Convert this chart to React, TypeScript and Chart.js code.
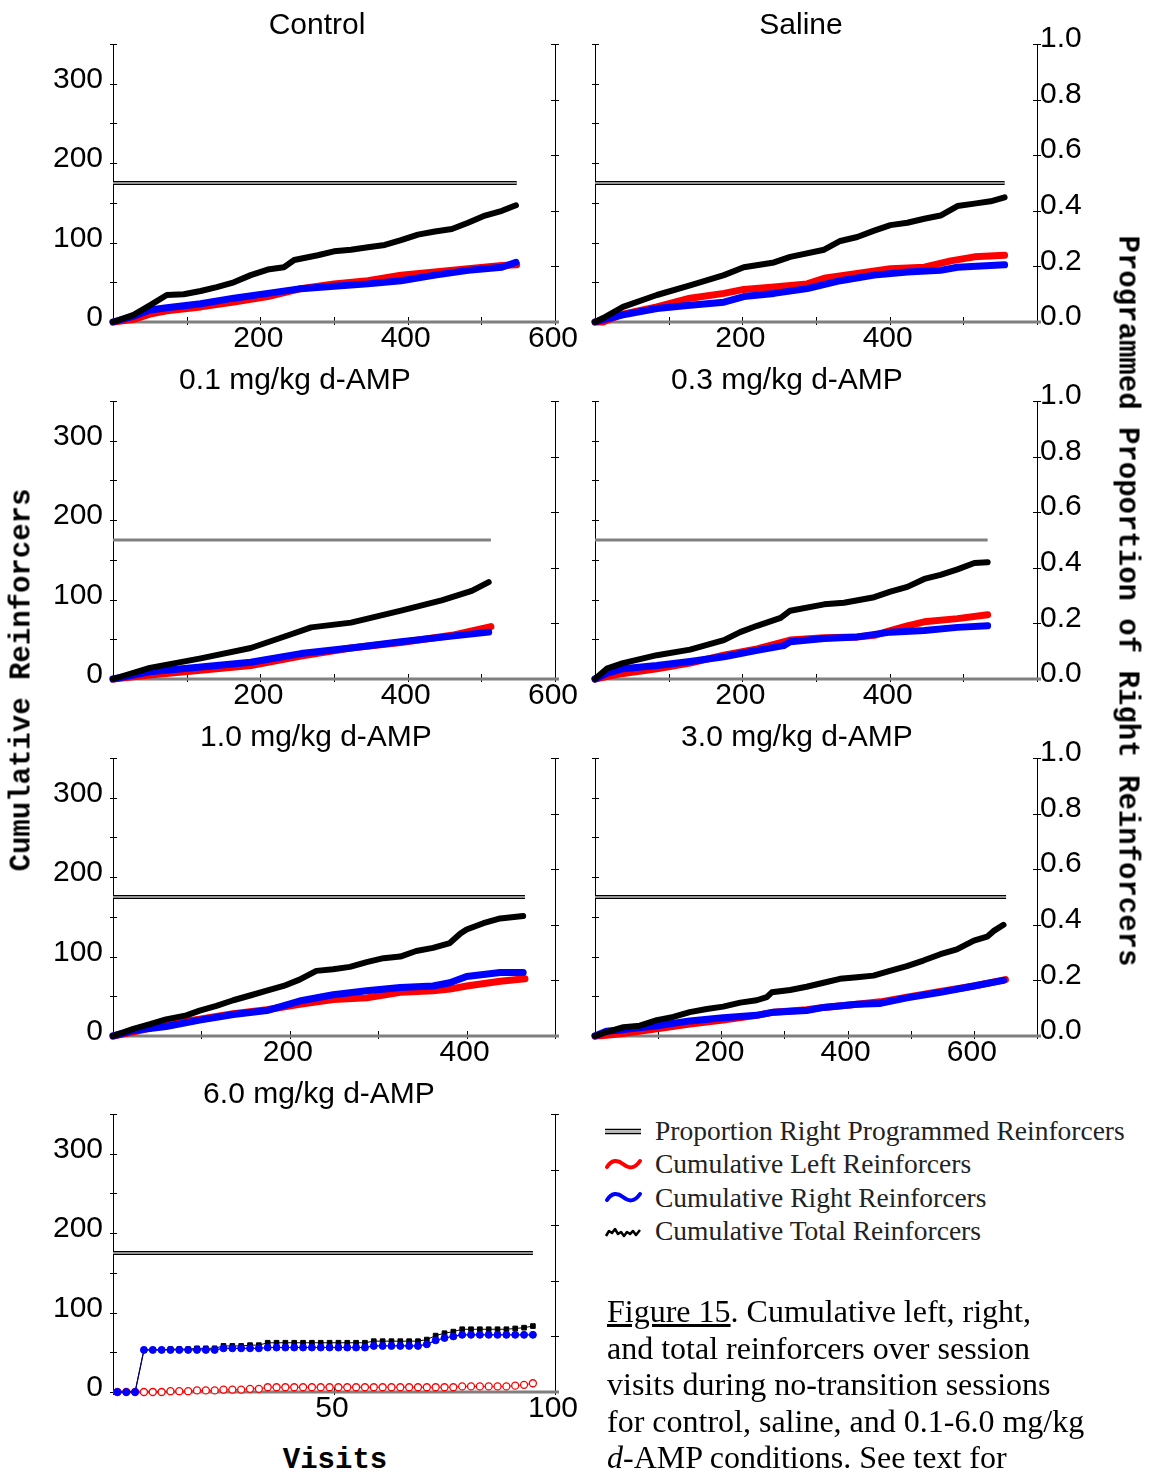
import React, { useEffect, useRef } from "react";
import { Chart, registerables } from "chart.js";
Chart.register(...registerables);

const SANS = "'Liberation Sans', Arial, sans-serif";
const MONO = "'Liberation Mono', 'Courier New', monospace";
const SERIF = "'Liberation Serif', 'Times New Roman', serif";

// ---------- Data (visits, cumulative reinforcers) ----------
// Control
const ctrlTotalX = [0, 28, 50, 73, 96, 119, 141, 164, 187, 210, 232, 246, 278, 300, 323, 346, 369, 391, 414, 437, 460, 482, 505, 528, 547];
const ctrlTotalY = [0, 9, 21, 34, 35, 39, 44, 50, 59, 66, 69, 78, 84, 89, 91, 94, 97, 103, 110, 114, 117, 125, 134, 140, 147];
const ctrlLeftX = [0, 27, 50, 73, 119, 164, 210, 255, 300, 346, 391, 437, 482, 528, 548];
const ctrlLeftY = [0, 3, 10, 14, 19, 25, 32, 42, 48, 52, 59, 63, 67, 71, 72];
const ctrlRightX = [0, 27, 50, 73, 119, 164, 210, 255, 300, 346, 391, 437, 482, 528, 547];
const ctrlRightY = [0, 7, 15, 18, 23, 30, 36, 42, 45, 48, 52, 59, 65, 69, 75];

// Saline
const salTotalX = [0, 11, 38, 84, 129, 175, 202, 243, 265, 311, 333, 356, 379, 401, 424, 447, 469, 492, 515, 537, 556];
const salTotalY = [0, 5, 19, 34, 46, 59, 69, 75, 82, 91, 102, 107, 115, 122, 125, 130, 134, 146, 149, 152, 157];
const salLeftX = [0, 11, 38, 84, 129, 175, 202, 243, 288, 311, 356, 401, 447, 483, 515, 556];
const salLeftY = [0, 0, 10, 19, 30, 36, 41, 44, 48, 55, 61, 67, 69, 77, 82, 84];
const salRightX = [0, 11, 38, 84, 129, 175, 202, 243, 288, 333, 379, 424, 469, 492, 556];
const salRightY = [0, 3, 9, 17, 21, 25, 32, 36, 42, 52, 59, 63, 65, 69, 72];

// 0.1 mg/kg
const d01TotalX = [0, 50, 119, 187, 241, 269, 323, 391, 446, 487, 510];
const d01TotalY = [0, 14, 26, 39, 56, 65, 71, 86, 99, 111, 122];
const d01LeftX = [0, 50, 119, 187, 255, 323, 391, 460, 513];
const d01LeftY = [0, 5, 11, 17, 29, 39, 46, 55, 66];
const d01RightX = [0, 50, 119, 187, 255, 323, 391, 460, 510];
const d01RightY = [0, 9, 15, 21, 32, 39, 47, 54, 59];

// 0.3 mg/kg
const d03TotalX = [0, 16, 38, 84, 129, 175, 197, 220, 252, 265, 311, 338, 379, 401, 424, 447, 469, 492, 515, 533];
const d03TotalY = [0, 13, 20, 30, 37, 49, 59, 67, 77, 86, 94, 96, 103, 110, 116, 126, 131, 138, 146, 147];
const d03LeftX = [0, 16, 38, 84, 129, 175, 220, 265, 311, 356, 379, 401, 424, 447, 492, 533];
const d03LeftY = [0, 3, 7, 13, 20, 30, 38, 49, 52, 53, 55, 61, 67, 72, 76, 81];
const d03RightX = [0, 16, 38, 84, 129, 175, 220, 256, 265, 311, 356, 401, 447, 492, 533];
const d03RightY = [0, 7, 13, 17, 22, 28, 36, 42, 47, 51, 53, 59, 61, 65, 67];

// 1.0 mg/kg
const d10TotalX = [0, 23, 42, 60, 83, 98, 117, 136, 155, 174, 193, 211, 230, 249, 268, 287, 306, 325, 343, 362, 381, 393, 400, 419, 438, 464];
const d10TotalY = [0, 9, 15, 21, 26, 32, 38, 45, 51, 57, 63, 71, 82, 84, 87, 93, 98, 100, 107, 111, 117, 129, 134, 142, 148, 151];
const d10LeftX = [0, 23, 60, 98, 136, 174, 211, 249, 287, 325, 362, 381, 400, 438, 466];
const d10LeftY = [0, 5, 15, 21, 28, 33, 40, 46, 48, 55, 57, 59, 63, 69, 72];
const d10RightX = [0, 23, 60, 98, 136, 174, 211, 249, 287, 325, 362, 381, 400, 438, 464];
const d10RightY = [0, 7, 12, 20, 27, 32, 44, 52, 57, 61, 63, 67, 75, 80, 80];

// 3.0 mg/kg
const d30TotalX = [0, 18, 45, 71, 98, 124, 150, 177, 203, 230, 256, 272, 280, 309, 335, 362, 388, 415, 441, 467, 494, 520, 547, 573, 600, 621, 631, 647];
const d30TotalY = [0, 5, 11, 13, 20, 24, 30, 34, 37, 42, 45, 49, 55, 58, 62, 67, 72, 74, 76, 82, 88, 95, 103, 109, 120, 125, 132, 140];
const d30LeftX = [0, 18, 45, 98, 150, 203, 256, 283, 335, 362, 415, 452, 494, 547, 600, 650];
const d30LeftY = [0, 1, 3, 9, 15, 20, 26, 30, 33, 36, 40, 43, 49, 56, 63, 71];
const d30RightX = [0, 18, 45, 98, 150, 203, 256, 283, 335, 362, 415, 452, 494, 547, 600, 647];
const d30RightY = [0, 6, 8, 13, 19, 23, 26, 30, 32, 36, 40, 41, 48, 55, 63, 70];

// 6.0 mg/kg (individual markers)
const d60X = [1, 3, 5, 7, 9, 11, 13, 15, 17, 19, 21, 23, 25, 27, 29, 31, 33, 35, 37, 39, 41, 43, 45, 47, 49, 51, 53, 55, 57, 59, 61, 63, 65, 67, 69, 71, 73, 75, 77, 79, 81, 83, 85, 87, 89, 91, 93, 95];
const d60Left = [0, 0, 0, 0, 0, 0, 1, 1, 1, 2, 2, 2, 3, 3, 3, 4, 4, 6, 6, 6, 6, 6, 6, 6, 6, 6, 6, 6, 6, 6, 6, 6, 6, 6, 6, 6, 6, 6, 6, 7, 7, 7, 7, 7, 7, 8, 9, 11];
const d60Right = [0, 0, 0, 53, 53, 53, 53, 53, 53, 53, 53, 53, 55, 55, 55, 55, 55, 56, 56, 56, 56, 56, 56, 56, 56, 56, 56, 56, 56, 58, 58, 58, 58, 58, 58, 60, 65, 68, 70, 72, 72, 72, 72, 72, 72, 72, 72, 72];
const d60Total = [0, 0, 0, 53, 53, 53, 54, 54, 54, 55, 55, 55, 58, 58, 58, 59, 59, 62, 62, 62, 62, 62, 62, 62, 62, 62, 62, 62, 62, 64, 64, 64, 64, 64, 64, 66, 71, 74, 76, 79, 79, 79, 79, 79, 79, 80, 81, 83];

// Programmed proportion of right reinforcers and last visit per condition
const programmedProportion = [0.5, 0.5, 0.5, 0.5, 0.5, 0.5, 0.5];
const lastVisit = [548, 556, 513, 533, 466, 651, 95];

const conditionTitles = ["Control", "Saline", "0.1 mg/kg d-AMP", "0.3 mg/kg d-AMP", "1.0 mg/kg d-AMP", "3.0 mg/kg d-AMP", "6.0 mg/kg d-AMP"];
const xMaxes = [600, 600, 600, 600, 500, 700, 100];
const xSteps = [100, 100, 100, 100, 100, 100, 50];
const xTickLabels = [[200, 400, 600], [200, 400], [200, 400, 600], [200, 400], [200, 400], [200, 400, 600], [50, 100]];
const yTickLabels = [0, 100, 200, 300];
const y2TickLabels = [0, 0.2, 0.4, 0.6, 0.8, 1.0];

const seriesData = [
  [ctrlTotalX, ctrlTotalY, ctrlRightX, ctrlRightY, ctrlLeftX, ctrlLeftY],
  [salTotalX, salTotalY, salRightX, salRightY, salLeftX, salLeftY],
  [d01TotalX, d01TotalY, d01RightX, d01RightY, d01LeftX, d01LeftY],
  [d03TotalX, d03TotalY, d03RightX, d03RightY, d03LeftX, d03LeftY],
  [d10TotalX, d10TotalY, d10RightX, d10RightY, d10LeftX, d10LeftY],
  [d30TotalX, d30TotalY, d30RightX, d30RightY, d30LeftX, d30LeftY],
];

// ---------- Layout ----------
const AXIS_W = 80;
const PAD_TOP = 40;
const AXIS_H = 45;
const PLOT_W = 442;
const PLOT_H = 278;
const COL_X = [113, 595];
const ROW_Y = [44, 401, 758, 1114];

const pts = (xs: number[], ys: number[]) => xs.map((x, i) => ({ x, y: ys[i] }));

const framePlugin = {
  id: "frame",
  beforeDatasetsDraw(chart: any) {
    const { ctx, chartArea: a, scales } = chart;
    ctx.save();
    ctx.strokeStyle = "#000";
    ctx.lineWidth = 1;
    ctx.beginPath();
    ctx.moveTo(a.left + 0.5, a.top);
    ctx.lineTo(a.left + 0.5, a.bottom);
    ctx.moveTo(a.right + 0.5, a.top);
    ctx.lineTo(a.right + 0.5, a.bottom);
    scales.y.ticks.forEach((t: any) => {
      const p = Math.round(scales.y.getPixelForValue(t.value)) + 0.5;
      ctx.moveTo(a.left - 3, p);
      ctx.lineTo(a.left + 4, p);
    });
    scales.y2.ticks.forEach((t: any) => {
      const p = Math.round(scales.y2.getPixelForValue(t.value)) + 0.5;
      ctx.moveTo(a.right - 4, p);
      ctx.lineTo(a.right + 4, p);
    });
    scales.x.ticks.forEach((t: any) => {
      const p = Math.round(scales.x.getPixelForValue(t.value)) + 0.5;
      ctx.moveTo(p, a.bottom - 5);
      ctx.lineTo(p, a.bottom + 3);
    });
    ctx.stroke();
    ctx.strokeStyle = "#7f7f7f";
    ctx.lineWidth = 3;
    ctx.beginPath();
    ctx.moveTo(a.left, a.bottom);
    ctx.lineTo(a.right + 4, a.bottom);
    ctx.stroke();
    ctx.restore();
  },
};

function Panel({ idx }: { idx: number }) {
  const ref = useRef<HTMLCanvasElement | null>(null);
  const col = idx % 2;
  const row = Math.floor(idx / 2);
  const left = COL_X[col] - AXIS_W;
  const top = ROW_Y[row] - PAD_TOP;
  const W = AXIS_W * 2 + PLOT_W;
  const H = PAD_TOP + PLOT_H + AXIS_H;

  useEffect(() => {
    if (!ref.current) return;
    const propLine = [
      { x: 0, y: programmedProportion[idx] },
      { x: lastVisit[idx], y: programmedProportion[idx] },
    ];
    const grayProp = row === 1;
    const datasets: any[] = [];
    if (idx < 6) {
      const [tx, ty, rx, ry, lx, ly] = seriesData[idx];
      const common = { pointRadius: 0, borderJoinStyle: "round", borderCapStyle: "round", clip: false, yAxisID: "y" };
      datasets.push({ ...common, label: "Cumulative Total Reinforcers", data: pts(tx, ty), borderColor: "#000", borderWidth: 6, order: 0 });
      datasets.push({ ...common, label: "Cumulative Right Reinforcers", data: pts(rx, ry), borderColor: "#0000ff", borderWidth: 7, order: 1 });
      datasets.push({ ...common, label: "Cumulative Left Reinforcers", data: pts(lx, ly), borderColor: "#ff0000", borderWidth: 7, order: 2 });
    } else {
      datasets.push({
        label: "Cumulative Total Reinforcers", data: pts(d60X, d60Total), yAxisID: "y", clip: false, order: 1,
        borderColor: "#000", borderWidth: 1, pointStyle: "rect", pointRadius: 3.3,
        pointBackgroundColor: "#000", pointBorderColor: "#000", pointBorderWidth: 1,
      });
      datasets.push({
        label: "Cumulative Right Reinforcers", data: pts(d60X, d60Right), yAxisID: "y", clip: false, order: 0,
        borderColor: "#000080", borderWidth: 1.2, pointStyle: "circle", pointRadius: 3.5,
        pointBackgroundColor: "#0000ff", pointBorderColor: "#0000ff", pointBorderWidth: 1,
      });
      datasets.push({
        label: "Cumulative Left Reinforcers", data: pts(d60X, d60Left), yAxisID: "y", clip: false, order: 2,
        borderColor: "#ff0000", borderWidth: 1, pointStyle: "circle", pointRadius: 3.5,
        pointBackgroundColor: "#ffffff", pointBorderColor: "#ff0000", pointBorderWidth: 1.3,
      });
    }
    if (grayProp) {
      datasets.push({ label: "Proportion", data: propLine, yAxisID: "y2", borderColor: "#808080", borderWidth: 3, pointRadius: 0, order: 5, clip: false });
    } else {
      datasets.push({ label: "Proportion", data: propLine, yAxisID: "y2", borderColor: "#c4c4c4", borderWidth: 1.3, pointRadius: 0, order: 4, clip: false });
      datasets.push({ label: "Proportion", data: propLine, yAxisID: "y2", borderColor: "#000", borderWidth: 4, pointRadius: 0, order: 5, clip: false });
    }

    const tickFont = { family: SANS, size: 30 };
    const chart = new Chart(ref.current, {
      type: "line",
      data: { datasets },
      plugins: [framePlugin],
      options: {
        animation: false,
        responsive: false,
        devicePixelRatio: 1,
        layout: { padding: { top: PAD_TOP, left: 0, right: 0, bottom: 0 } },
        plugins: { legend: { display: false }, tooltip: { enabled: false }, title: { display: false } },
        scales: {
          x: {
            type: "linear", min: 0, max: xMaxes[idx],
            grid: { display: false, drawTicks: false }, border: { display: false },
            ticks: {
              stepSize: xSteps[idx], autoSkip: false, maxRotation: 0, padding: -1, labelOffset: -2,
              font: tickFont, color: "#000",
              callback: (v: any) => (xTickLabels[idx].includes(Number(v)) ? String(v) : ""),
            },
            afterFit: (s: any) => { s.height = AXIS_H; },
          },
          y: {
            type: "linear", position: "left", min: 0, max: 350,
            grid: { display: false, drawTicks: false }, border: { display: false },
            ticks: {
              stepSize: 50, autoSkip: false, padding: 10, labelOffset: -4, font: tickFont, color: "#000",
              callback: (v: any) => (col === 0 && yTickLabels.includes(Number(v)) ? String(v) : ""),
            },
            afterFit: (s: any) => { s.width = AXIS_W; },
          },
          y2: {
            type: "linear", position: "right", min: 0, max: 1,
            grid: { display: false, drawTicks: false }, border: { display: false },
            ticks: {
              stepSize: 0.2, autoSkip: false, padding: 3, labelOffset: -5, font: tickFont, color: "#000",
              callback: (v: any) => {
                const n = Number(v);
                return col === 1 && y2TickLabels.some((t) => Math.abs(t - n) < 1e-6) ? n.toFixed(1) : "";
              },
            },
            afterFit: (s: any) => { s.width = AXIS_W; },
          },
        },
      } as any,
    });
    return () => chart.destroy();
  }, [idx]);

  return (
    <canvas
      ref={ref}
      width={W}
      height={H}
      style={{ position: "absolute", left, top, width: W, height: H }}
    />
  );
}

const titlePos = [
  [317, 24], [801, 24], [295, 379], [787, 379], [316, 736], [797, 736], [319, 1093],
];

const legendItems = [
  "Proportion Right Programmed Reinforcers",
  "Cumulative Left Reinforcers",
  "Cumulative Right Reinforcers",
  "Cumulative Total Reinforcers",
];

export default function App() {
  const centered = (x: number, y: number, extra: React.CSSProperties = {}): React.CSSProperties => ({
    position: "absolute", left: x, top: y, transform: "translate(-50%, -50%)", whiteSpace: "nowrap", ...extra,
  });
  return (
    <div style={{ position: "absolute", left: 0, top: 0, width: 1150, height: 1474, background: "#fff", overflow: "hidden" }}>
      {[0, 1, 2, 3, 4, 5, 6].map((i) => <Panel key={i} idx={i} />)}
      {conditionTitles.map((t, i) => (
        <div key={t} style={centered(titlePos[i][0], titlePos[i][1], { fontFamily: SANS, fontSize: 30, color: "#000" })}>{t}</div>
      ))}
      <div style={centered(22, 680, { fontFamily: MONO, fontWeight: "bold", fontSize: 29, transform: "translate(-50%, -50%) rotate(-90deg)" })}>
        Cumulative Reinforcers
      </div>
      <div style={centered(1127, 601, { fontFamily: MONO, fontWeight: "bold", fontSize: 29, transform: "translate(-50%, -50%) rotate(90deg)" })}>
        Programmed Proportion of Right Reinforcers
      </div>
      <div style={centered(335, 1460, { fontFamily: MONO, fontWeight: "bold", fontSize: 29 })}>Visits</div>

      <svg style={{ position: "absolute", left: 598, top: 1112, width: 52, height: 136 }} viewBox="598 1112 52 136">
        <line x1={605} y1={1129.5} x2={641} y2={1129.5} stroke="#000" strokeWidth={1.3} />
        <line x1={605} y1={1131.5} x2={641} y2={1131.5} stroke="#bbb" strokeWidth={1.3} />
        <line x1={605} y1={1133.5} x2={641} y2={1133.5} stroke="#000" strokeWidth={1.3} />
        <path d="M607,1167 C612,1159 618,1160 623,1164 S634,1170 640,1161" stroke="#ff0000" strokeWidth={4} fill="none" strokeLinecap="round" />
        <path d="M607,1200 C612,1192 618,1193 623,1197 S634,1203 640,1194" stroke="#0000ff" strokeWidth={4} fill="none" strokeLinecap="round" />
        <path d="M606,1236 L609,1231 L612,1233 L615,1229 L618,1234 L621,1232 L624,1236 L627,1232 L630,1234 L633,1231 L636,1235 L640,1230" stroke="#000" strokeWidth={2.5} fill="none" strokeLinejoin="round" />
      </svg>
      {legendItems.map((t, i) => (
        <div key={t} style={{ position: "absolute", left: 655, top: 1131 + i * 33.3, transform: "translateY(-50%)", fontFamily: SERIF, fontSize: 27.5, color: "#222", whiteSpace: "nowrap" }}>{t}</div>
      ))}

      <div style={{ position: "absolute", left: 607, top: 1293, fontFamily: SERIF, fontSize: 32, lineHeight: "36.6px", color: "#000", whiteSpace: "nowrap" }}>
        <span style={{ textDecoration: "underline" }}>Figure 15</span>. Cumulative left, right,<br />
        and total reinforcers over session<br />
        visits during no-transition sessions<br />
        for control, saline, and 0.1-6.0 mg/kg<br />
        <i>d</i>-AMP conditions. See text for
      </div>
    </div>
  );
}
